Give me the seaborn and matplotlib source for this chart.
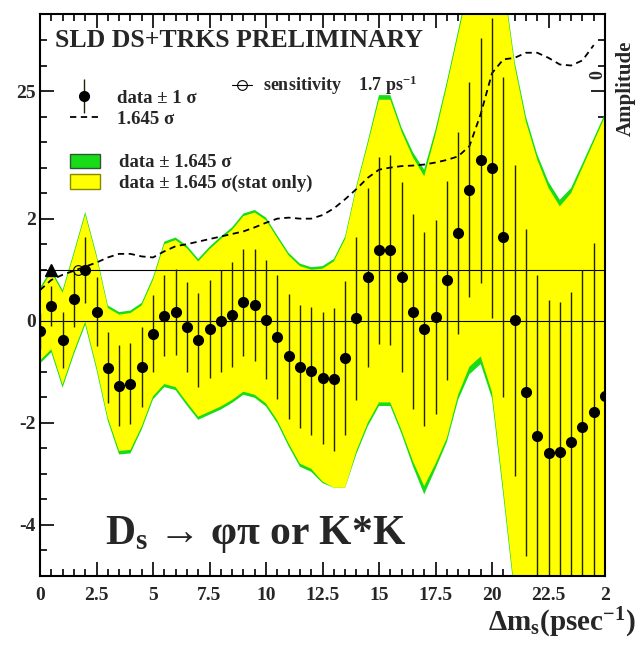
import numpy as np
import matplotlib
matplotlib.use('Agg')
import matplotlib.pyplot as plt
import seaborn as sns
from matplotlib.ticker import MultipleLocator
from matplotlib.patches import Patch
from matplotlib.lines import Line2D
from matplotlib.legend_handler import HandlerErrorbar
from matplotlib.container import ErrorbarContainer

# amplitude scan, D_s -> phi pi / K*K
dm = [0.0, 0.5, 1.0, 1.5, 2.0, 2.5, 3.0, 3.5, 4.0, 4.5,
      5.0, 5.5, 6.0, 6.5, 7.0, 7.5, 8.0, 8.5, 9.0, 9.5,
      10.0, 10.5, 11.0, 11.5, 12.0, 12.5, 13.0, 13.5, 14.0, 14.5,
      15.0, 15.5, 16.0, 16.5, 17.0, 17.5, 18.0, 18.5, 19.0, 19.5,
      20.0, 20.5, 21.0, 21.5, 22.0, 22.5, 23.0, 23.5, 24.0, 24.5,
      25.0]
amp = [-0.20, 0.29, -0.37, 0.43, 1.00, 0.18, -0.92, -1.27, -1.23, -0.90,
       -0.25, 0.10, 0.17, -0.13, -0.37, -0.16, 0.00, 0.12, 0.36, 0.31,
       0.02, -0.32, -0.70, -0.90, -0.98, -1.12, -1.15, -0.73, 0.05, 0.85,
       1.38, 1.38, 0.86, 0.18, -0.16, 0.07, 0.79, 1.72, 2.57, 3.14,
       2.99, 1.64, 0.01, -1.40, -2.25, -2.60, -2.58, -2.38, -2.08, -1.78,
       -1.47]
err = [0.35, 0.40, 0.55, 0.55, 0.65, 0.67, 0.70, 0.80, 0.80, 0.78,
       0.76, 0.80, 0.84, 0.88, 0.92, 0.96, 1.00, 1.03, 1.05, 1.10,
       1.17, 1.22, 1.22, 1.20, 1.25, 1.30, 1.40, 1.50, 1.60, 1.75,
       1.83, 1.86, 1.86, 1.91, 1.90, 1.90, 1.95, 1.97, 2.10, 2.40,
       2.94, 3.14, 3.05, 3.20, 3.15, 3.00, 2.95, 2.95, 3.08, 3.30,
       3.50]
# 1.645 sigma curve (dashed)
sens = [0.60, 0.80, 0.90, 0.98, 1.06, 1.14, 1.24, 1.31, 1.31, 1.26,
        1.24, 1.36, 1.46, 1.50, 1.55, 1.60, 1.65, 1.70, 1.75, 1.83,
        1.92, 2.00, 2.02, 2.00, 2.00, 2.07, 2.20, 2.38, 2.58, 2.80,
        2.96, 3.00, 3.03, 3.04, 3.06, 3.10, 3.15, 3.22, 3.42, 4.05,
        4.85, 5.12, 5.15, 5.25, 5.25, 5.15, 5.02, 5.00, 5.10, 5.40,
        np.nan]
# band edges: yellow = stat only, green = total
yel_hi = [0.60, 0.95, 0.55, 1.30, 2.08, 1.25, 0.25, 0.12, 0.15, 0.30,
          0.80, 1.50, 1.58, 1.42, 1.16, 1.40, 1.60, 1.78, 2.05, 2.12,
          1.97, 1.62, 1.28, 1.07, 1.00, 1.02, 1.16, 1.60, 2.60, 3.45,
          4.33, 4.33, 3.70, 3.20, 2.83, 3.65, 4.60, 5.60, 6.60, 7.20,
          7.20, 6.60, 5.00, 3.90, 3.16, 2.60, 2.24, 2.50, 3.00, 3.50,
          4.00]
yel_lo = [-0.78, -0.56, -1.25, -0.60, -0.02, -0.90, -1.90, -2.55, -2.53, -2.07,
          -1.48, -1.24, -1.30, -1.60, -1.88, -1.78, -1.68, -1.55, -1.39, -1.45,
          -1.62, -1.95, -2.40, -2.80, -2.90, -3.15, -3.27, -3.27, -2.55, -2.00,
          -1.60, -1.60, -2.15, -2.75, -3.24, -2.80, -2.30, -1.45, -0.90, -0.70,
          -1.40, -3.30, -5.30, -7.00, -7.00, -7.00, -7.00, -7.00, -7.00, -7.00,
          -7.00]
grn_hi = [0.65, 1.00, 0.60, 1.35, 2.13, 1.30, 0.30, 0.17, 0.20, 0.35,
          0.85, 1.55, 1.63, 1.47, 1.21, 1.45, 1.65, 1.83, 2.10, 2.17,
          2.02, 1.67, 1.33, 1.12, 1.05, 1.07, 1.21, 1.65, 2.65, 3.51,
          4.42, 4.42, 3.78, 3.30, 2.96, 3.75, 4.68, 5.68, 6.70, 7.30,
          7.30, 6.70, 5.08, 4.00, 3.26, 2.72, 2.37, 2.60, 3.08, 3.57,
          4.06]
grn_lo = [-0.84, -0.62, -1.31, -0.66, -0.08, -0.96, -1.96, -2.62, -2.60, -2.13,
          -1.54, -1.30, -1.36, -1.66, -1.94, -1.84, -1.74, -1.61, -1.45, -1.51,
          -1.68, -2.01, -2.46, -2.86, -2.96, -3.18, -3.27, -3.27, -2.61, -2.07,
          -1.67, -1.67, -2.22, -2.85, -3.40, -2.90, -2.38, -1.55, -1.05, -0.85,
          -1.52, -3.42, -5.40, -7.00, -7.00, -7.00, -7.00, -7.00, -7.00, -7.00,
          -7.00]
# sensitivity marker and the triangle on the A=1 line
sens_x = [1.7]
sens_y = [1.0]
tri_x = [0.5]
tri_y = [1.0]

xtick_pos = [0, 2.5, 5, 7.5, 10, 12.5, 15, 17.5, 20, 22.5, 25]
xtick_lbl = ['0', '2.5', '5', '7.5', '10', '12.5', '15', '17.5', '20', '22.5', '2']
ytick_pos = [-4, -2, 0, 2, 4.5]
ytick_lbl = ['-4', '-2', '0', '2', '25']

sns.set_style('ticks')
plt.rcParams['font.family'] = ['Liberation Serif', 'DejaVu Serif']
plt.rcParams['font.weight'] = 'bold'
plt.rcParams['mathtext.fontset'] = 'custom'
plt.rcParams['mathtext.rm'] = 'Liberation Serif:bold'
plt.rcParams['mathtext.it'] = 'Liberation Serif:italic:bold'
plt.rcParams['mathtext.bf'] = 'Liberation Serif:bold'

fig = plt.figure(figsize=(6.37, 6.46), dpi=100)
ax = fig.add_axes([0.0628, 0.1084, 0.887, 0.8692])

ax.fill_between(dm, grn_lo, grn_hi, color='#18dc18', lw=0, zorder=1)
ax.fill_between(dm, yel_lo, yel_hi, color='#ffff00', lw=0, zorder=2)
ax.axhline(0, color='black', lw=0.8, zorder=3)
ax.axhline(1, color='black', lw=0.8, zorder=3)

sns.lineplot(x=dm, y=sens, ax=ax, color='black', lw=1.3, linestyle=(0, (3.5, 2.5)),
             estimator=None, sort=False, zorder=4)
eb = ax.errorbar(dm, amp, yerr=err, fmt='o', color='black', ms=7, elinewidth=1.0,
                 ecolor='#222200', capsize=0, zorder=5)
ax.plot(tri_x, tri_y, ls='none', marker='^', color='black', ms=8, zorder=6)
ax.plot(sens_x, sens_y, ls='none', marker='o', mfc='none', mec='black', ms=7, mew=0.8, zorder=6)

ax.set_xlim(0, 25)
ax.set_ylim(-5, 6)
ax.set_xticks(xtick_pos, xtick_lbl)
ax.set_yticks(ytick_pos, ytick_lbl)
ax.xaxis.set_minor_locator(MultipleLocator(0.5))
ax.yaxis.set_minor_locator(MultipleLocator(0.5))
ax.tick_params(which='both', direction='in', top=True, right=True, width=1.2, color='black')
ax.tick_params(which='major', length=10, labelsize=14)
ax.tick_params(which='minor', length=5)
ax.tick_params(axis='x', pad=8)
ax.tick_params(axis='y', pad=3)
for sp in ax.spines.values():
    sp.set_linewidth(1.5)
    sp.set_color('black')
    sp.set_zorder(7)

# legends
dash_h = Line2D([], [], color='black', lw=1.3, linestyle=(0, (3.5, 2.5)))
leg1 = ax.legend([eb, dash_h], ['data ± 1 σ', '1.645 σ'], loc='center left',
                 bbox_to_anchor=(0.053, 0.832), frameon=False, fontsize=13.5,
                 handlelength=1.5, handletextpad=1.0, borderpad=0, borderaxespad=0,
                 labelspacing=0.2,
                 handler_map={ErrorbarContainer: HandlerErrorbar(xerr_size=0.0, yerr_size=0.9)})
ax.add_artist(leg1)
leg2 = ax.legend([Patch(facecolor='#18dc18', edgecolor='#335533', lw=1),
                  Patch(facecolor='#ffff00', edgecolor='#888800', lw=1)],
                 ['data ± 1.645 σ', 'data ± 1.645 σ(stat only)'], loc='center left',
                 bbox_to_anchor=(0.053, 0.718), frameon=False, fontsize=13.5,
                 handlelength=1.6, handleheight=0.8, handletextpad=1.0, borderpad=0,
                 borderaxespad=0, labelspacing=0.15)
ax.add_artist(leg2)
sens_h = Line2D([], [], color='black', lw=0.8, marker='o', mfc='none', mec='black', ms=7, mew=0.8)
ax.legend([sens_h], ['sensitivity    1.7 ps$^{\\mathrm{-1}}$'], loc='center left',
          bbox_to_anchor=(0.34, 0.873), frameon=False, fontsize=13,
          handlelength=1.1, handletextpad=0.6, borderpad=0, borderaxespad=0)

ax.text(0.027, 0.954, 'SLD DS+TRKS PRELIMINARY', transform=ax.transAxes,
        fontsize=18.5, fontweight='bold', va='center', ha='left')
ax.text(0.115, 0.073, 'D$_{\\mathrm{s}}$ \u2192 φπ or K*K', transform=ax.transAxes,
        fontsize=30, fontweight='bold', va='center', ha='left')

fig.text(0.998, 0.036, 'Δm$_{\\mathrm{s}}$(psec$^{\\mathrm{-1}}$)', ha='right', va='center',
         fontsize=21, fontweight='bold')
fig.text(0.983, 0.864, 'Amplitude', rotation=90, ha='center', va='center',
         fontsize=15, fontweight='bold')
fig.text(0.939, 0.884, '0', rotation=90, ha='center', va='center', fontsize=13)

fig.savefig('out.png', dpi=100)
